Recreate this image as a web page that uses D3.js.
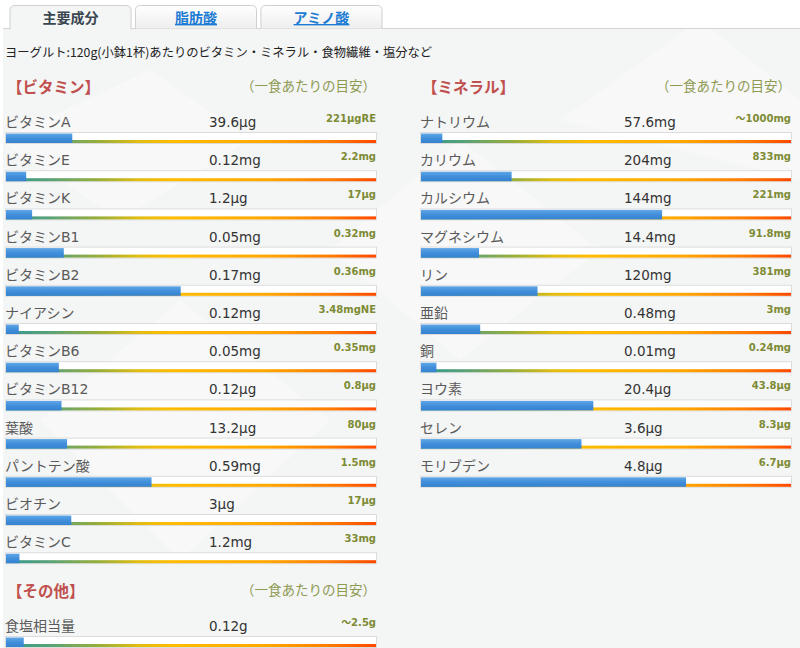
<!DOCTYPE html>
<html><head><meta charset="utf-8">
<script src="https://cdn.jsdelivr.net/npm/d3@7"></script>
<style>
html,body{margin:0;padding:0;background:#fff;}
svg{display:block;}
text{font-family:"DejaVu Sans","Noto Sans CJK JP",sans-serif;}
.jp{font-family:"Noto Sans CJK JP","DejaVu Sans",sans-serif;}
</style></head>
<body><svg id="c" width="800" height="648"></svg>
<script>
// ---- data ----
const tabs = ["主要成分", "脂肪酸", "アミノ酸"];
const subtitle = "ヨーグルト:120g(小鉢1杯)あたりのビタミン・ミネラル・食物繊維・塩分など";
const refNote = "（一食あたりの目安）";

const vitaminNames = ["ビタミンA","ビタミンE","ビタミンK","ビタミンB1","ビタミンB2","ナイアシン","ビタミンB6","ビタミンB12","葉酸","パントテン酸","ビオチン","ビタミンC"];
const vitaminValues = [39.6, 0.12, 1.2, 0.05, 0.17, 0.12, 0.05, 0.12, 13.2, 0.59, 3, 1.2];
const vitaminUnits = ["μg","mg","μg","mg","mg","mg","mg","μg","μg","mg","μg","mg"];
const vitaminRefs = [221, 2.2, 17, 0.32, 0.36, 3.48, 0.35, 0.8, 80, 1.5, 17, 33];
const vitaminRefUnits = ["μgRE","mg","μg","mg","mg","mgNE","mg","μg","μg","mg","μg","mg"];
const vitaminRefPrefix = ["","","","","","","","","","","",""];

const mineralNames = ["ナトリウム","カリウム","カルシウム","マグネシウム","リン","亜鉛","銅","ヨウ素","セレン","モリブデン"];
const mineralValues = [57.6, 204, 144, 14.4, 120, 0.48, 0.01, 20.4, 3.6, 4.8];
const mineralUnits = ["mg","mg","mg","mg","mg","mg","mg","μg","μg","μg"];
const mineralRefs = [1000, 833, 221, 91.8, 381, 3, 0.24, 43.8, 8.3, 6.7];
const mineralRefUnits = ["mg","mg","mg","mg","mg","mg","mg","μg","μg","μg"];
const mineralRefPrefix = ["～","","","","","","","","",""];

const otherNames = ["食塩相当量"];
const otherValues = [0.12];
const otherUnits = ["g"];
const otherRefs = [2.5];
const otherRefUnits = ["g"];
const otherRefPrefix = ["～"];

// ---- drawing ----
const svg = d3.select("#c");
const defs = svg.append("defs");

const grad = defs.append("linearGradient").attr("id","scaleGrad").attr("x1","0").attr("x2","1").attr("y1","0").attr("y2","0");
[[0,"#2f9a90"],[0.12,"#5aa277"],[0.25,"#98ae3a"],[0.36,"#e2bd12"],[0.45,"#ffbc00"],[0.7,"#ffa800"],[0.88,"#ff7a00"],[1,"#ff4800"]]
  .forEach(([o,c]) => grad.append("stop").attr("offset", o).attr("stop-color", c));
const blueGrad = defs.append("linearGradient").attr("id","blueGrad").attr("x1","0").attr("x2","0").attr("y1","0").attr("y2","1");
[[0,"#5fa6e6"],[0.5,"#418fdb"],[1,"#3582d0"]].forEach(([o,c]) => blueGrad.append("stop").attr("offset", o).attr("stop-color", c));
const tabGrad = defs.append("linearGradient").attr("id","tabGrad").attr("x1","0").attr("x2","0").attr("y1","0").attr("y2","1");
[[0,"#ffffff"],[1,"#eeeeee"]].forEach(([o,c]) => tabGrad.append("stop").attr("offset", o).attr("stop-color", c));

// content background
svg.append("rect").attr("x",3).attr("y",29).attr("width",797).attr("height",619).attr("fill","#f4f5f5");
// faint decorative shapes
const deco = [
  [[40,420],[180,300],[330,420],[180,560]],
  [[330,250],[460,140],[600,250],[460,360]],
  [[560,120],[700,20],[800,100],[800,180]],
  [[0,140],[150,70],[250,140],[120,220]]
];
svg.append("g").selectAll("path").data(deco).join("path")
  .attr("d", d => d3.line()(d) + "Z").attr("fill", "#ffffff").attr("opacity", 0.35);

// tabs
const tabX = d3.scaleBand().domain(tabs).range([10, 382]).paddingInner(0.035);
svg.append("line").attr("x1",3).attr("x2",800).attr("y1",28.5).attr("y2",28.5).attr("stroke","#d4d4d4");
const tg = svg.append("g").selectAll("g").data(tabs).join("g");
tg.append("path")
  .attr("d", (d,i) => {
    const x0 = tabX(d), x1 = x0 + tabX.bandwidth(), y0 = 5.5, y1 = i === 0 ? 29.5 : 28.5, r = 5;
    return `M${x0},${y1}V${y0+r}Q${x0},${y0} ${x0+r},${y0}H${x1-r}Q${x1},${y0} ${x1},${y0+r}V${y1}`;
  })
  .attr("fill", (d,i) => i === 0 ? "#f4f5f5" : "url(#tabGrad)")
  .attr("stroke", "#cfcfcf");
tg.append("text").attr("class","jp")
  .attr("x", d => tabX(d) + tabX.bandwidth()/2).attr("y", 23)
  .attr("text-anchor","middle").attr("font-size",14).attr("font-weight","bold")
  .attr("fill", (d,i) => i === 0 ? "#3a4650" : "#1c7bd3")
  .attr("text-decoration", (d,i) => i === 0 ? null : "underline")
  .text(d => d);

svg.append("text").attr("class","jp").attr("x",5).attr("y",57).attr("font-size",12.3).attr("fill","#222").text(subtitle);

const barW = 371, barH = 11, rowStep = 38.2;

function section(x0, yHeader, title, names, values, units, refs, refUnits, refPrefix) {
  const g = svg.append("g");
  g.append("text").attr("class","jp").attr("x", x0 + 2).attr("y", yHeader + 6)
    .attr("font-size",15.5).attr("font-weight","bold").attr("fill","#c0504d").text(title);
  g.append("text").attr("class","jp").attr("x", x0 + barW).attr("y", yHeader + 4)
    .attr("text-anchor","end").attr("font-size",13.5).attr("fill","#8e9a52").text(refNote);
  const y = d3.scaleLinear().domain([0, 1]).range([yHeader + 45, yHeader + 45 + rowStep]);
  const rows = g.selectAll("g.row").data(names.map((n,i)=>({n, v:values[i], u:units[i], r:refs[i], ru:refUnits[i], rp:refPrefix[i], i})))
    .join("g").attr("class","row").attr("transform", d => `translate(${x0},${y(d.i)})`);
  rows.append("text").attr("x",0).attr("y",-5).attr("font-size",14).attr("fill","#5a5a5a").text(d => d.n);
  rows.append("text").attr("x",204).attr("y",-5).attr("font-size",13.5).attr("fill","#333").text(d => d.v + d.u);
  rows.append("text").attr("x",barW).attr("y",-10).attr("text-anchor","end").attr("font-size",10).attr("font-weight","bold")
    .attr("fill","#7d8b34").text(d => d.rp + d.r + d.ru);
  rows.append("rect").attr("x",0.5).attr("y",0.5).attr("width",barW).attr("height",barH).attr("fill","#fff").attr("stroke","#dcdcdc");
  rows.append("rect").attr("x",1).attr("y",barH-3).attr("width",barW-1).attr("height",3).attr("fill","url(#scaleGrad)");
  rows.append("rect").attr("x",1).attr("y",1.5).attr("height",barH-1.5)
    .attr("width", d => d3.scaleLinear().domain([0, d.r]).range([0, barW-1]).clamp(true)(d.v))
    .attr("fill","url(#blueGrad)");
}

section(5, 87, "【ビタミン】", vitaminNames, vitaminValues, vitaminUnits, vitaminRefs, vitaminRefUnits, vitaminRefPrefix);
section(420, 87, "【ミネラル】", mineralNames, mineralValues, mineralUnits, mineralRefs, mineralRefUnits, mineralRefPrefix);
section(5, 591, "【その他】", otherNames, otherValues, otherUnits, otherRefs, otherRefUnits, otherRefPrefix);
</script></body></html>
